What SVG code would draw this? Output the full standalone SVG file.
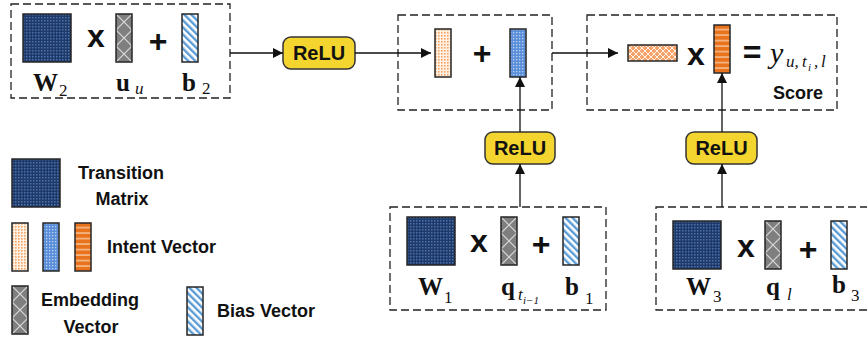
<svg xmlns="http://www.w3.org/2000/svg" xmlns:xlink="http://www.w3.org/1999/xlink" width="867" height="341" viewBox="0 0 867 341">
<style>
.box{fill:none;stroke:#222;stroke-width:1.3;stroke-dasharray:8 4}
.vec{stroke:#262626;stroke-width:1.5}
.relu rect{fill:#F4D42E;stroke:#333;stroke-width:1.5}
.relu text,.lbl,.op{font-family:"Liberation Sans",Arial,sans-serif;font-weight:bold;fill:#111}
.relu text{font-size:20px;text-anchor:middle}
.lbl{font-size:18px}
.op{font-size:32px;text-anchor:middle}
.m{font-family:"Liberation Serif","Times New Roman",serif;fill:#111}
.mb{font-weight:bold;font-size:25px}
.ms{font-size:17px}
.mi{font-style:italic}
.conn line{stroke:#111;stroke-width:1.3;marker-end:url(#ah)}
</style>
<defs>
<marker id="ah" viewBox="0 0 10 10" refX="10" refY="5" markerWidth="11" markerHeight="10" markerUnits="userSpaceOnUse" orient="auto"><path d="M0,0 L10,5 L0,10 z" fill="#111"/></marker>
<pattern id="pMat" width="3" height="3" patternUnits="userSpaceOnUse"><rect width="3" height="3" fill="#1F3A68"/><rect width="1.5" height="1.5" fill="#4C72AE"/></pattern>
<pattern id="pEmb" width="16" height="16" patternUnits="userSpaceOnUse"><rect width="16" height="16" fill="#7F7F7F"/><path d="M-2,-2 L18,18 M18,-2 L-2,18" stroke="#D9D9D9" stroke-width="1.2"/></pattern>
<pattern id="pBias" width="5" height="5" patternUnits="userSpaceOnUse" patternTransform="rotate(-45)"><rect width="5" height="5" fill="#fff"/><rect width="2.4" height="5" fill="#5B9BD5"/></pattern>
<pattern id="pOD" width="3" height="3" patternUnits="userSpaceOnUse"><rect width="3" height="3" fill="#FFF1E4"/><rect width="1.6" height="1.6" fill="#F5A465"/></pattern>
<pattern id="pBD" width="3" height="3" patternUnits="userSpaceOnUse"><rect width="3" height="3" fill="#5A8ED8"/><rect width="1.3" height="1.3" fill="#B9D3F4"/></pattern>
<pattern id="pOS" width="6" height="5.5" patternUnits="userSpaceOnUse"><rect width="6" height="5.5" fill="#E8731C"/><rect y="4" width="6" height="1.2" fill="#FAD3B0"/></pattern>
<pattern id="pOX" width="6" height="6" patternUnits="userSpaceOnUse"><rect width="6" height="6" fill="#F4A46A"/><path d="M-1,-1 L7,7 M7,-1 L-1,7" stroke="#FFF3E8" stroke-width="1"/></pattern>
<rect id="mat" class="vec" width="48" height="48" fill="url(#pMat)"/>
<rect id="emb" class="vec" width="16" height="48" fill="url(#pEmb)"/>
<rect id="bias" class="vec" width="16" height="48" fill="url(#pBias)"/>
<rect id="od" class="vec" width="16" height="48" fill="url(#pOD)"/>
<rect id="bd" class="vec" width="16" height="48" fill="url(#pBD)"/>
<rect id="os" class="vec" width="16" height="48" fill="url(#pOS)"/>
</defs>
<rect width="867" height="341" fill="#fff"/>

<g id="node-w2">
<rect class="box" x="11" y="4" width="219" height="94"/>
<use xlink:href="#mat" x="23" y="14"/>
<text class="op" x="96" y="47">x</text>
<use xlink:href="#emb" x="116" y="14"/>
<text class="op" x="158" y="52">+</text>
<use xlink:href="#bias" x="182" y="14"/>
<text class="m mb" x="33" y="91">W</text><text class="m ms" x="59" y="96">2</text>
<text class="m mb" x="116" y="91">u</text><text class="m ms mi" x="135" y="94" font-size="15">u</text>
<text class="m mb" x="182" y="91">b</text><text class="m ms" x="202" y="94">2</text>
</g>

<g id="node-relu1" class="relu"><rect x="283" y="37" width="72" height="32" rx="8"/><text x="319" y="60">ReLU</text></g>

<g id="node-sum">
<rect class="box" x="398" y="15" width="154" height="95"/>
<use xlink:href="#od" x="435" y="29"/>
<text class="op" x="482" y="64">+</text>
<use xlink:href="#bd" x="510" y="29"/>
</g>

<g id="node-score">
<rect class="box" x="587" y="15" width="250" height="95"/>
<rect class="vec" x="628" y="45" width="49" height="16" fill="url(#pOX)"/>
<text class="op" x="696" y="65">x</text>
<use xlink:href="#os" x="714" y="25"/>
<text class="op" x="752" y="63">=</text>
<text class="m mi" x="770" y="63" font-size="30">y</text>
<text class="m mi ms" x="786" y="67">u,</text>
<text class="m mi ms" x="802" y="67">t</text>
<text class="m mi" x="808" y="71" font-size="11">i</text>
<text class="m mi ms" x="814" y="67">,</text>
<text class="m mi ms" x="821" y="67">l</text>
<text class="lbl" x="773" y="99" font-size="16">Score</text>
</g>

<g id="node-relu2" class="relu"><rect x="485" y="132" width="70" height="32" rx="8"/><text x="520" y="155">ReLU</text></g>
<g id="node-relu3" class="relu"><rect x="686" y="132" width="71" height="32" rx="8"/><text x="721.5" y="155">ReLU</text></g>

<g id="node-w1">
<rect class="box" x="390" y="207" width="216" height="103"/>
<use xlink:href="#mat" x="407" y="217"/>
<text class="op" x="479" y="252">x</text>
<use xlink:href="#emb" x="501" y="217"/>
<text class="op" x="541" y="255">+</text>
<use xlink:href="#bias" x="563" y="217"/>
<text class="m mb" x="418" y="295">W</text><text class="m ms" x="444" y="303">1</text>
<text class="m mb" x="501" y="295">q</text><text class="m mi ms" x="518" y="300">t</text><text class="m mi" x="523" y="304" font-size="11">i−1</text>
<text class="m mb" x="565" y="295">b</text><text class="m ms" x="585" y="304">1</text>
</g>

<g id="node-w3">
<rect class="box" x="656" y="207" width="216" height="103"/>
<use xlink:href="#mat" x="673" y="221"/>
<text class="op" x="746" y="257">x</text>
<use xlink:href="#emb" x="765" y="221"/>
<text class="op" x="808" y="260">+</text>
<use xlink:href="#bias" x="831" y="221"/>
<text class="m mb" x="686" y="295">W</text><text class="m ms" x="713" y="302">3</text>
<text class="m mb" x="766" y="295">q</text><text class="m mi ms" x="787" y="300">l</text>
<text class="m mb" x="832" y="293">b</text><text class="m ms" x="851" y="301">3</text>
</g>

<g id="legend">
<use xlink:href="#mat" x="12" y="159"/>
<text class="lbl" x="78" y="179">Transition</text>
<text class="lbl" x="122" y="205" text-anchor="middle">Matrix</text>
<use xlink:href="#od" x="12" y="223"/>
<use xlink:href="#bd" x="43" y="223"/>
<use xlink:href="#os" x="75" y="223"/>
<text class="lbl" x="107" y="253">Intent Vector</text>
<use xlink:href="#emb" x="12" y="286"/>
<text class="lbl" x="41" y="306">Embedding</text>
<text class="lbl" x="91" y="333" text-anchor="middle">Vector</text>
<use xlink:href="#bias" x="187" y="287"/>
<text class="lbl" x="217" y="317">Bias Vector</text>
</g>

<g id="connectors" class="conn">
<line x1="230" y1="53" x2="283" y2="53"/>
<line x1="355" y1="53" x2="431" y2="53"/>
<line x1="552" y1="53" x2="618" y2="53"/>
<line x1="520" y1="207" x2="520" y2="164"/>
<line x1="520" y1="132" x2="520" y2="77"/>
<line x1="722" y1="207" x2="722" y2="164"/>
<line x1="722" y1="132" x2="722" y2="73"/>
</g>
</svg>
